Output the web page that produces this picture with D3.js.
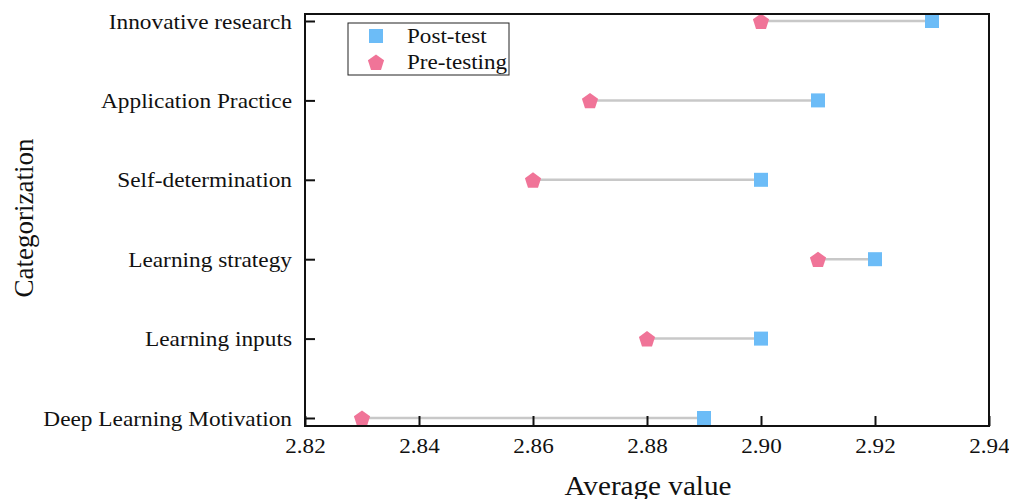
<!DOCTYPE html>
<html>
<head>
<meta charset="utf-8">
<script src="https://cdn.jsdelivr.net/npm/d3@7"></script>
<style>
  body { margin: 0; background: #fff; }
  text { font-family: "Liberation Serif", "Times New Roman", serif; fill: #111; }
</style>
</head>
<body>
<div id="chart"></div>
<script>
// categories, top to bottom
var categories = ["Innovative research", "Application Practice", "Self-determination",
  "Learning strategy", "Learning inputs", "Deep Learning Motivation"];
var postTest = [2.93, 2.91, 2.90, 2.92, 2.90, 2.89];
var preTest = [2.90, 2.87, 2.86, 2.91, 2.88, 2.83];
var xTicks = [2.82, 2.84, 2.86, 2.88, 2.90, 2.92, 2.94];

var svgWidth = 1009, svgHeight = 499;
var margin = { top: 14, right: 20, bottom: 73, left: 305 };
var chartWidth = 989 - margin.left;
var chartHeight = 426 - margin.top;
var serif = "Liberation Serif, Times New Roman, serif";

var svg = d3.select("#chart").append("svg")
  .attr("width", svgWidth)
  .attr("height", svgHeight);

var chartGroup = svg.append("g")
  .attr("transform", `translate(${margin.left}, ${margin.top})`);

var x = d3.scaleLinear().domain([2.82, 2.94]).range([0, chartWidth]);
var y = d3.scalePoint().domain(categories).range([7, chartHeight - 8]);

// the original text is a bit wider than Liberation Serif, stretch it
function stretch(sel, k) {
  sel.each(function() {
    var w = this.getComputedTextLength();
    d3.select(this).attr("textLength", w * k).attr("lengthAdjust", "spacingAndGlyphs");
  });
}

// dumbbell lines
chartGroup.selectAll(".link")
  .data(categories)
  .enter().append("line")
  .attr("x1", (d, i) => x(preTest[i]))
  .attr("x2", (d, i) => x(postTest[i]))
  .attr("y1", d => y(d))
  .attr("y2", d => y(d))
  .attr("stroke", "#c8c8c8")
  .attr("stroke-width", 2.5);

// pentagon path
function pentagon(r) {
  var pts = d3.range(5).map(function(k) {
    var a = -Math.PI / 2 + k * 2 * Math.PI / 5;
    return [r * Math.cos(a), r * Math.sin(a)];
  });
  return "M" + pts.map(p => p.join(",")).join("L") + "Z";
}

chartGroup.selectAll(".post")
  .data(categories)
  .enter().append("rect")
  .attr("x", (d, i) => x(postTest[i]) - 7)
  .attr("y", d => y(d) - 7)
  .attr("width", 14)
  .attr("height", 14)
  .attr("fill", "#6cbcf7");

chartGroup.selectAll(".pre")
  .data(categories)
  .enter().append("path")
  .attr("d", pentagon(8.5))
  .attr("transform", (d, i) => `translate(${x(preTest[i])}, ${y(d) + 1})`)
  .attr("fill", "#f07498");

// frame
chartGroup.append("rect")
  .attr("width", chartWidth)
  .attr("height", chartHeight)
  .attr("fill", "none")
  .attr("stroke", "#111")
  .attr("stroke-width", 2);

// axes
var bottomAxis = d3.axisBottom(x).tickValues(xTicks).tickFormat(d3.format(".2f"))
  .tickSizeInner(-10).tickSizeOuter(0).tickPadding(11);
var xg = chartGroup.append("g")
  .attr("transform", `translate(0, ${chartHeight})`)
  .call(bottomAxis);
xg.select(".domain").remove();
xg.selectAll("line").attr("stroke", "#111").attr("stroke-width", 2);
xg.selectAll("text").attr("fill", "#111")
  .style("font-family", serif).style("font-size", "22px")
  .call(stretch, 1.05);

var leftAxis = d3.axisLeft(y).tickSizeInner(-10).tickSizeOuter(0).tickPadding(13);
var yg = chartGroup.append("g").call(leftAxis);
yg.select(".domain").remove();
yg.selectAll("line").attr("stroke", "#111").attr("stroke-width", 2);
yg.selectAll("text").attr("fill", "#111")
  .style("font-family", serif).style("font-size", "22px")
  .call(stretch, 1.06);

// axis titles
svg.append("text")
  .attr("x", 648).attr("y", 495)
  .attr("text-anchor", "middle")
  .style("font-size", "27px")
  .text("Average value")
  .call(stretch, 1.08);

svg.append("text")
  .attr("transform", "translate(33, 218) rotate(-90)")
  .attr("text-anchor", "middle")
  .style("font-size", "27px")
  .text("Categorization");

// legend
var legend = svg.append("g").attr("transform", "translate(348, 23)");
legend.append("rect")
  .attr("width", 161).attr("height", 52)
  .attr("fill", "#fff").attr("stroke", "#222").attr("stroke-width", 1);
legend.append("rect")
  .attr("x", 21).attr("y", 6).attr("width", 14).attr("height", 14)
  .attr("fill", "#6cbcf7");
legend.append("path")
  .attr("d", pentagon(8.5))
  .attr("transform", "translate(28, 40)")
  .attr("fill", "#f07498");
legend.append("text").attr("x", 59).attr("y", 20)
  .style("font-size", "22px").text("Post-test").call(stretch, 1.05);
legend.append("text").attr("x", 59).attr("y", 46)
  .style("font-size", "22px").text("Pre-testing").call(stretch, 1.05);
</script>
</body>
</html>
